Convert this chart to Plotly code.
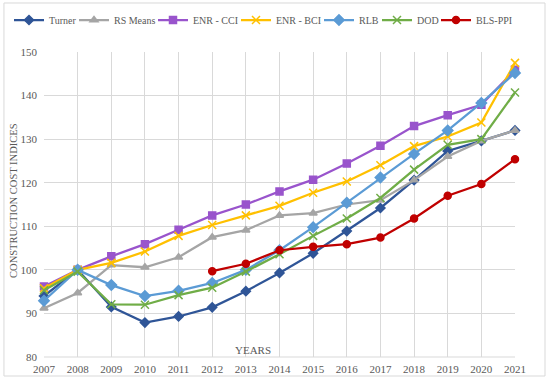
import plotly.graph_objects as go

years = list(range(2007, 2022))
turner = [94.0, 100.0, 91.5, 87.9, 89.3, 91.4, 95.1, 99.3, 103.8, 108.9, 114.2, 120.6, 127.3, 129.6, 132.0]
rs_means = [91.2, 94.7, 101.1, 100.6, 102.9, 107.5, 109.1, 112.5, 113.0, 115.0, 116.0, 120.6, 126.0, 129.6, 132.0]
enr_cci = [96.2, 100.0, 103.1, 105.9, 109.2, 112.5, 115.0, 118.0, 120.7, 124.4, 128.5, 133.0, 135.5, 137.9, 145.9]
enr_bci = [95.8, 100.0, 101.6, 104.2, 107.8, 110.3, 112.5, 114.7, 117.7, 120.3, 124.0, 128.4, 130.6, 133.8, 147.5]
rlb = [92.9, 100.0, 96.5, 94.0, 95.2, 97.0, 100.0, 104.5, 109.8, 115.4, 121.2, 126.6, 132.0, 138.3, 145.2]
dod = [95.3, 99.6, 92.1, 92.0, 94.2, 95.9, 99.6, 103.6, 107.8, 111.8, 116.5, 123.0, 128.7, 130.0, 140.7]
bls_years = list(range(2012, 2022))
bls_ppi = [99.7, 101.4, 104.5, 105.3, 105.9, 107.4, 111.8, 117.0, 119.7, 125.4]

series = [
    ("Turner", years, turner, "#2F5597", "diamond", 7),
    ("RS Means", years, rs_means, "#A5A5A5", "triangle-up", 7),
    ("ENR - CCI", years, enr_cci, "#9954CC", "square", 7),
    ("ENR - BCI", years, enr_bci, "#FFC000", "x-thin-open", 8),
    ("RLB", years, rlb, "#5B9BD5", "diamond", 8),
    ("DOD", years, dod, "#70AD47", "x-thin-open", 8),
    ("BLS-PPI", bls_years, bls_ppi, "#C00000", "circle", 7),
]

# left pixel position of each one-entry legend (layout only)
legend_px = [9, 74, 153, 236, 319, 377, 436]

font_family = "Liberation Serif, Times New Roman, serif"
fig = go.Figure()
legends = {}
for i, (name, xs, ys, color, sym, sz) in enumerate(series):
    key = "legend" if i == 0 else f"legend{i+1}"
    fig.add_trace(go.Scatter(
        x=xs, y=ys, name=name, mode="lines+markers",
        line=dict(color=color, width=2.25),
        marker=dict(symbol=sym, size=sz, color=color,
                    line=dict(color=color, width=1.5)),
        cliponaxis=False,
        legend=key,
    ))
    legends[key] = dict(
        orientation="h", xref="container", yref="container",
        x=legend_px[i] / 550, xanchor="left",
        y=1 - 20 / 381, yanchor="middle",
        font=dict(family=font_family, size=10, color="#595959"),
        itemwidth=30, bgcolor="rgba(0,0,0,0)", borderwidth=0,
    )

fig.update_layout(
    width=550, height=381,
    margin=dict(l=44, r=35, t=52, b=24, autoexpand=False),
    paper_bgcolor="white", plot_bgcolor="white",
    font=dict(family=font_family, size=11, color="#595959"),
    showlegend=True,
    xaxis=dict(range=[2007, 2021], dtick=1, tick0=2007, showgrid=True,
               gridcolor="#D9D9D9", gridwidth=1, zeroline=False,
               showline=False, ticks="", ticklabelstandoff=4,
               tickfont=dict(size=11, color="#595959")),
    yaxis=dict(range=[80, 150], dtick=10, showgrid=True, gridcolor="#D9D9D9",
               gridwidth=1, zeroline=False, showline=False, ticks="",
               ticklabelstandoff=6,
               tickfont=dict(size=11, color="#595959")),
    annotations=[
        dict(text="YEARS", x=0.4437, y=0.023, xref="paper", yref="paper",
             showarrow=False, font=dict(size=11, color="#595959"), xanchor="center", yanchor="middle"),
        dict(text="CONSTRUCTION COST INDICES", x=-0.0637, y=0.515, xref="paper", yref="paper",
             showarrow=False, textangle=-90, font=dict(size=10.5, color="#595959"),
             xanchor="center", yanchor="middle"),
    ],
    shapes=[
        dict(type="rect", xref="paper", yref="paper", x0=-0.085, x1=1.0637, y0=-0.0623, y1=1.1607,
             line=dict(color="#D9D9D9", width=1), layer="below"),
        dict(type="line", xref="paper", yref="paper", x0=0, x1=1, y0=0, y1=0,
             line=dict(color="#D9D9D9", width=1), layer="below"),
    ],
)
fig.update_layout(**legends)

fig.write_html("out.html", config={"displayModeBar": False},
               post_script="document.body.style.margin='0px';")
